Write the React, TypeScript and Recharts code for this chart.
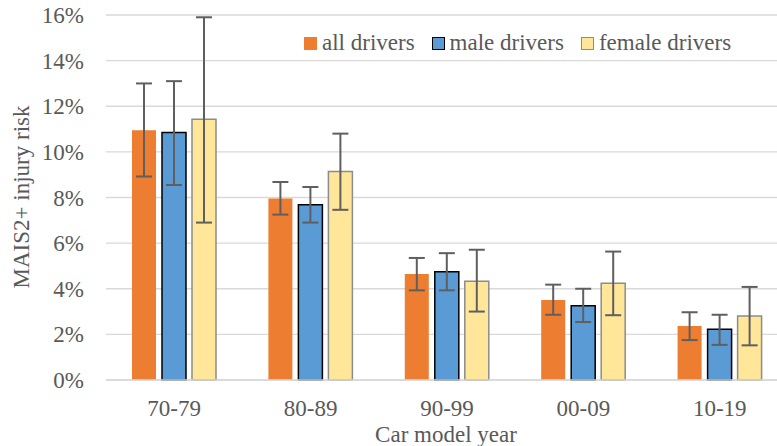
import React from 'react';
import { BarChart, Bar, XAxis, YAxis, CartesianGrid, ErrorBar, Legend } from 'recharts';

const categories = ['70-79', '80-89', '90-99', '00-09', '10-19'];

const allValues = [10.95, 7.96, 4.65, 3.51, 2.37];
const allLow = [8.92, 7.25, 3.93, 2.86, 1.75];
const allHigh = [13.0, 8.68, 5.35, 4.18, 2.97];

const maleValues = [10.85, 7.68, 4.75, 3.26, 2.22];
const maleLow = [8.55, 6.9, 3.93, 2.54, 1.54];
const maleHigh = [13.1, 8.46, 5.56, 4.0, 2.86];

const femaleValues = [11.43, 9.14, 4.33, 4.24, 2.81];
const femaleLow = [6.9, 7.46, 3.0, 2.84, 1.52];
const femaleHigh = [15.9, 10.8, 5.71, 5.63, 4.08];

const yTicks = [0, 2, 4, 6, 8, 10, 12, 14, 16];

const data = categories.map((c, i) => ({
  cat: c,
  all: allValues[i],
  allErr: [allValues[i] - allLow[i], allHigh[i] - allValues[i]],
  male: maleValues[i],
  maleErr: [maleValues[i] - maleLow[i], maleHigh[i] - maleValues[i]],
  female: femaleValues[i],
  femaleErr: [femaleValues[i] - femaleLow[i], femaleHigh[i] - femaleValues[i]],
}));

const FONT = '"Liberation Serif", "Times New Roman", serif';
const TEXT = '#595959';

const legendItems = [
  { label: 'all drivers', fill: '#ED7D31', stroke: '#ED7D31' },
  { label: 'male drivers', fill: '#5B9BD5', stroke: '#000000' },
  { label: 'female drivers', fill: '#FFE699', stroke: '#8C8C8C' },
];

const LegendContent = () => (
  <div style={{ display: 'flex', alignItems: 'center', fontFamily: FONT, fontSize: 23, color: TEXT, whiteSpace: 'nowrap', lineHeight: '28px' }}>
    {legendItems.map((it) => (
      <div key={it.label} style={{ display: 'flex', alignItems: 'center', marginRight: 17 }}>
        <span style={{ display: 'inline-block', width: 11, height: 11, background: it.fill, border: `1.5px solid ${it.stroke}`, marginRight: 5 }} />
        <span style={{ fontFamily: FONT }}>{it.label}</span>
      </div>
    ))}
  </div>
);

const XTick = (props: any) => {
  const { x, y, payload } = props;
  return (
    <text x={x} y={y} dy={16} textAnchor="middle" fill={TEXT} fontSize={23} fontFamily={FONT}>
      {payload.value}
    </text>
  );
};

const YTick = (props: any) => {
  const { x, y, payload } = props;
  return (
    <text x={x} y={y} dy={8} textAnchor="end" fill={TEXT} fontSize={23} fontFamily={FONT}>
      {`${payload.value}%`}
    </text>
  );
};

export default function App() {
  return (
    <div style={{ position: 'absolute', left: 0, top: 0, width: 777, height: 446, overflow: 'hidden', background: '#fff', fontFamily: FONT }}>
      <BarChart
        width={800}
        height={446}
        data={data}
        margin={{ top: 15, right: 12, bottom: 0, left: 0 }}
        barCategoryGap={26}
        barGap={6}
      >
        <CartesianGrid vertical={false} stroke="#d9d9d9" strokeWidth={1.3} />
        <XAxis
          dataKey="cat"
          height={66}
          tickLine={false}
          tickSize={0}
          tickMargin={20}
          axisLine={{ stroke: '#d9d9d9', strokeWidth: 1.5 }}
          tick={<XTick />}
          label={{
            content: () => (
              <text x={446} y={442} textAnchor="middle" fill={TEXT} fontSize={23} fontFamily={FONT}>
                Car model year
              </text>
            ),
          }}
        />
        <YAxis
          width={106}
          domain={[0, 16]}
          ticks={yTicks}
          axisLine={false}
          tickLine={false}
          tickSize={0}
          tickMargin={22}
          tick={<YTick />}
          label={{
            content: () => (
              <text x={29} y={197} transform="rotate(-90 29 197)" textAnchor="middle" fill={TEXT} fontSize={23} fontFamily={FONT}>
                MAIS2+ injury risk
              </text>
            ),
          }}
        />
        <Legend
          layout="horizontal"
          verticalAlign="middle"
          align="center"
          content={<LegendContent />}
          wrapperStyle={{ position: 'absolute', left: 304, top: 29, width: 'auto', height: 'auto' }}
        />
        <Bar dataKey="all" fill="#ED7D31" isAnimationActive={false}>
          <ErrorBar dataKey="allErr" width={8} stroke="#5f5f5f" strokeWidth={2} direction="y" />
        </Bar>
        <Bar dataKey="male" fill="#5B9BD5" stroke="#000000" strokeWidth={1.5} isAnimationActive={false}>
          <ErrorBar dataKey="maleErr" width={8} stroke="#5f5f5f" strokeWidth={2} direction="y" />
        </Bar>
        <Bar dataKey="female" fill="#FFE699" stroke="#8C8C8C" strokeWidth={1.5} isAnimationActive={false}>
          <ErrorBar dataKey="femaleErr" width={8} stroke="#5f5f5f" strokeWidth={2} direction="y" />
        </Bar>
      </BarChart>
    </div>
  );
}
